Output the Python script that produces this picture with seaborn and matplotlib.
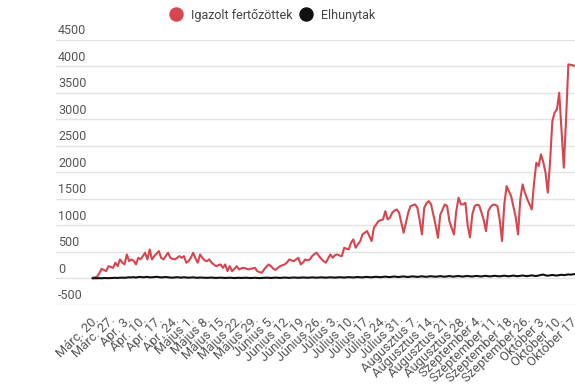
import matplotlib
matplotlib.use("Agg")
import matplotlib.pyplot as plt
from matplotlib.lines import Line2D
import seaborn as sns
import numpy as np
import pandas as pd

# tengelyfeliratok (hetente egy)
tick_labels = ["Márc. 20.", "Márc. 27.", "Apr. 3.", "Apr. 10.", "Apr. 17.", "Apr. 24.",
               "Május 1.", "Május 8.", "Május 15.", "Május 22.", "Május 29.",
               "Június 5.", "Június 12.", "Június 19.", "Június 26.",
               "Július 3.", "Július 10.", "Július 17.", "Július 24.", "Július 31.",
               "Augusztus 7.", "Augusztus 14.", "Augusztus 21.", "Augusztus 28.",
               "Szeptember 4.", "Szeptember 11.", "Szeptember 18.", "Szeptember 26.",
               "Október 3.", "Október 10.", "Október 17."]
y_ticks = [-500, 0, 500, 1000, 1500, 2000, 2500, 3000, 3500, 4000, 4500]

# napi adatok a grafikonrol leolvasva
fertozottek = [13, 20, 32, 100, 182, 160, 138, 232, 215, 200,
               296, 232, 359, 300, 264, 453, 327, 359, 330, 264,
               390, 359, 420, 485, 359, 547, 359, 421, 470, 516,
               390, 359, 420, 485, 390, 370, 359, 390, 421, 390,
               421, 296, 327, 390, 485, 380, 296, 453, 390, 340,
               327, 359, 300, 264, 232, 250, 264, 200, 264, 138,
               232, 138, 180, 232, 170, 190, 200, 190, 170, 180,
               190, 200, 138, 120, 107, 170, 220, 264, 232, 185,
               160, 200, 232, 250, 264, 300, 359, 340, 327, 360,
               390, 264, 300, 359, 340, 359, 420, 460, 485, 421,
               370, 327, 296, 380, 453, 390, 440, 453, 430, 421,
               579, 560, 548, 673, 736, 579, 642, 700, 830, 862,
               893, 800, 705, 956, 1019, 1082, 1100, 1113, 1270, 1113,
               1145, 1239, 1280, 1302, 1239, 1050, 862, 1050, 1239, 1365,
               1380, 1396, 1333, 1100, 830, 1333, 1420, 1459, 1396, 1200,
               1000, 767, 1200, 1300, 1396, 1365, 1082, 950, 830, 1270,
               1522, 1400, 1396, 1427, 1000, 774, 1200, 1364, 1390, 1380,
               1245, 1100, 893, 1270, 1350, 1390, 1390, 1364, 1100, 704,
               1400, 1742, 1648, 1550, 1350, 1150, 830, 1500, 1774, 1617,
               1500, 1400, 1302, 1800, 2183, 2120, 2340, 2200, 2000, 1617,
               2200, 2968, 3127, 3189, 3504, 2800, 2089, 3000, 4038, 4030,
               4020, 4006, 3990]
elhunytak = [2, 4, 4, 6, 3, 8, 7, 6, 9, 10,
             12, 9, 14, 15, 12, 18, 22, 20, 24, 17,
             26, 29, 21, 25, 30, 20, 22, 26, 31, 24,
             19, 23, 27, 22, 17, 15, 20, 24, 18, 16,
             22, 19, 14, 17, 21, 15, 12, 18, 16, 13,
             11, 14, 17, 12, 10, 13, 15, 11, 9, 12,
             14, 10, 8, 11, 13, 9, 12, 14, 10, 8,
             11, 13, 9, 7, 10, 12, 15, 11, 9, 13,
             16, 12, 10, 14, 17, 13, 11, 15, 18, 14,
             12, 16, 19, 15, 13, 17, 20, 16, 14, 18,
             21, 17, 15, 19, 22, 18, 16, 20, 23, 19,
             17, 22, 25, 21, 18, 24, 27, 22, 20, 26,
             29, 24, 22, 28, 31, 26, 23, 30, 34, 28,
             25, 32, 36, 30, 27, 34, 38, 31, 28, 35,
             39, 33, 29, 36, 41, 34, 31, 38, 42, 36,
             32, 39, 44, 37, 33, 40, 45, 38, 35, 42,
             46, 39, 36, 43, 47, 40, 37, 44, 48, 41,
             38, 45, 49, 42, 39, 46, 50, 43, 40, 47,
             52, 45, 41, 48, 54, 46, 43, 50, 56, 48,
             44, 52, 58, 50, 46, 55, 62, 74, 58, 52,
             60, 66, 58, 55, 63, 70, 61, 68, 76, 70,
             79, 82, 75]

piros = "#d6464f"
fekete = "#111111"

sns.set_style("white")
plt.rcParams["font.family"] = ["Roboto", "DejaVu Sans"]

df = pd.DataFrame({"nap": np.arange(len(fertozottek)),
                   "Igazolt fertőzöttek": fertozottek,
                   "Elhunytak": elhunytak})
hosszu = df.melt(id_vars="nap", var_name="sorozat", value_name="eset")

fig = plt.figure(figsize=(5.75, 3.87), dpi=100)
ax = fig.add_axes([0.098, 0.212, 0.902, 0.685])

sns.lineplot(data=hosszu, x="nap", y="eset", hue="sorozat",
             hue_order=["Igazolt fertőzöttek", "Elhunytak"],
             palette={"Igazolt fertőzöttek": piros, "Elhunytak": fekete},
             linewidth=1.5, legend=False, ax=ax)

ax.set_xlim(-15.8, 210.9)
ax.set_ylim(-500, 4500)
ax.set_xlabel("")
ax.set_ylabel("")
sns.despine(ax=ax, left=True, bottom=True)

# vizszintes racsvonalak, feliratok a vonal folott
ax.set_yticks(y_ticks)
ax.set_yticklabels([])
ax.tick_params(axis="y", length=0)
ax.grid(axis="y", color="#e3e3e3", linewidth=1)
ax.set_axisbelow(True)
for v in y_ticks:
    ax.annotate(str(v), xy=(0, v), xycoords=ax.get_yaxis_transform(),
                xytext=(1.2, 4.2), textcoords="offset points",
                ha="left", va="baseline", fontsize=9, color="#555555")

ax.set_xticks(np.arange(0, 7 * len(tick_labels), 7))
ax.set_xticklabels(tick_labels, rotation=44, ha="right",
                   rotation_mode="anchor", fontsize=9.3, color="#555555")
ax.tick_params(axis="x", length=0, pad=6)

kezelok = [Line2D([], [], marker="o", linestyle="", markersize=9.4, color=piros),
           Line2D([], [], marker="o", linestyle="", markersize=9.4, color=fekete)]
fig.legend(kezelok, ["Igazolt fertőzöttek", "Elhunytak"], loc="center",
           bbox_to_anchor=(0.474, 0.961), ncol=2, frameon=False,
           fontsize=9, handletextpad=0.7, columnspacing=0.6,
           handlelength=1, labelcolor="#444444")

fig.savefig("out.png", dpi=100)
